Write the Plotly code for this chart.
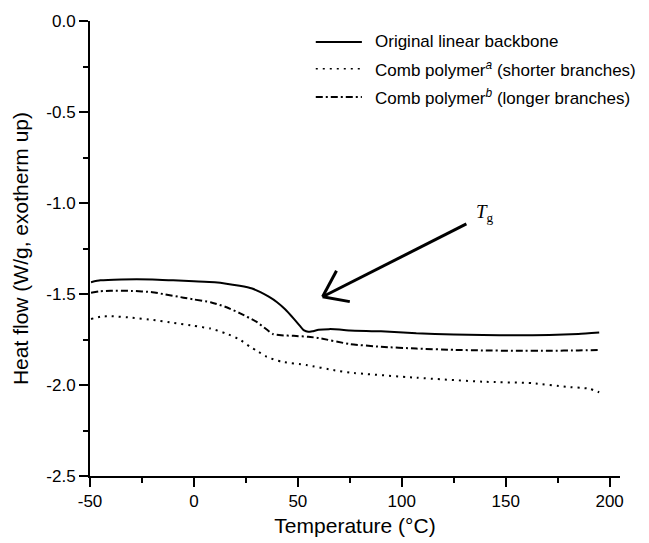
import plotly.graph_objects as go

# DSC traces: temperature (°C) and heat flow (W/g, exotherm up)
temp_backbone = [-49.5, -45, -35, -20, -10, 0, 10, 22, 28, 32, 36, 40, 44, 48, 51, 53, 55,
                 57, 60, 65, 70, 75, 90, 107, 125, 139, 155, 171, 185, 195]
flow_backbone = [-1.435, -1.425, -1.42, -1.42, -1.425, -1.43, -1.435, -1.455, -1.47, -1.49,
                 -1.515, -1.545, -1.585, -1.635, -1.675, -1.70, -1.708, -1.705, -1.697,
                 -1.693, -1.695, -1.70, -1.705, -1.716, -1.722, -1.725, -1.727, -1.725,
                 -1.72, -1.712]

temp_short = [-49.5, -45, -40, -30, -20, -10, 0, 8, 15, 22, 27, 30, 35, 42, 54, 68, 75, 107,
              139, 163, 179, 190, 195]
flow_short = [-1.637, -1.625, -1.622, -1.63, -1.642, -1.658, -1.675, -1.69, -1.715, -1.75,
              -1.79, -1.81, -1.845, -1.872, -1.89, -1.92, -1.932, -1.96, -1.982, -1.99,
              -2.01, -2.02, -2.04]

temp_long = [-49.5, -45, -40, -30, -20, -15, -5, 0, 8, 15, 22, 30, 35, 38, 42, 48, 55, 60,
             75, 90, 107, 125, 139, 155, 171, 185, 195]
flow_long = [-1.493, -1.485, -1.482, -1.483, -1.49, -1.50, -1.52, -1.53, -1.545, -1.57,
             -1.605, -1.652, -1.695, -1.72, -1.727, -1.73, -1.735, -1.742, -1.775, -1.79,
             -1.80, -1.807, -1.81, -1.812, -1.812, -1.81, -1.808]

series_names = [
    "Original linear backbone",
    "Comb polymer<sup><i>a</i></sup> (shorter branches)",
    "Comb polymer<sup><i>b</i></sup> (longer branches)",
]
series_dash = ["solid", "2px,5px", "7px,3px,2px,3px"]

x_ticks = [-50, 0, 50, 100, 150, 200]
y_ticks = [0.0, -0.5, -1.0, -1.5, -2.0, -2.5]

# Glass transition marker: arrow tip and tail (data units)
tg_tip = (61.9, -1.515)
tg_tail = (131.1, -1.115)

FONT = "Liberation Sans, Arial, sans-serif"

fig = go.Figure()
for xs, ys, dash in [(temp_backbone, flow_backbone, series_dash[0]),
                     (temp_short, flow_short, series_dash[1]),
                     (temp_long, flow_long, series_dash[2])]:
    fig.add_trace(go.Scatter(
        x=xs, y=ys, mode="lines", showlegend=False,
        line=dict(color="black", width=2, dash=dash, shape="spline", smoothing=0.5),
    ))

shapes = []
# arrow shaft and open head
shapes.append(dict(type="line", xref="x", yref="y", x0=tg_tail[0], y0=tg_tail[1],
                   x1=tg_tip[0], y1=tg_tip[1], line=dict(color="black", width=3)))
shapes.append(dict(type="line", xref="x", yref="y", x0=tg_tip[0], y0=tg_tip[1],
                   x1=tg_tip[0] + 6.7, y1=tg_tip[1] + 0.143, line=dict(color="black", width=3)))
shapes.append(dict(type="line", xref="x", yref="y", x0=tg_tip[0], y0=tg_tip[1],
                   x1=tg_tip[0] + 13.1, y1=tg_tip[1] - 0.027, line=dict(color="black", width=3)))

annotations = [dict(
    x=tg_tail[0] + 3.5, y=tg_tail[1] + 0.06, xref="x", yref="y",
    text="<i>T</i><sub>g</sub>", showarrow=False, xanchor="left", yanchor="middle",
    font=dict(family="Liberation Serif, Times New Roman, serif", size=19, color="black"),
)]

# legend drawn as line samples plus labels
legend_rows = [0.954, 0.895, 0.833]
for name, dash, yy in zip(series_names, series_dash, legend_rows):
    shapes.append(dict(type="line", xref="paper", yref="paper", x0=0.426, x1=0.513,
                       y0=yy, y1=yy, line=dict(color="black", width=2 if dash != "2px,5px" else 1.6,
                                               dash=dash)))
    annotations.append(dict(x=0.534, y=yy, xref="paper", yref="paper", text=name,
                            showarrow=False, xanchor="left", yanchor="middle",
                            font=dict(family=FONT, size=17, color="black")))

fig.update_layout(
    width=649, height=543,
    margin=dict(l=90, r=29, t=21, b=67),
    paper_bgcolor="white", plot_bgcolor="white",
    font=dict(family=FONT, color="black"),
    shapes=shapes, annotations=annotations,
    showlegend=False,
)
fig.update_xaxes(
    range=[-50, 205], tickvals=x_ticks, ticktext=[str(v) for v in x_ticks],
    showgrid=False, zeroline=False, showline=True, linecolor="black", linewidth=2,
    ticks="outside", ticklen=9, tickwidth=2, tickcolor="black",
    minor=dict(dtick=25, tick0=-50, ticks="outside", ticklen=5, tickwidth=2, tickcolor="black"),
    tickfont=dict(size=17), title=dict(text="Temperature (°C)", font=dict(size=21), standoff=8),
    automargin=False,
)
fig.update_yaxes(
    range=[-2.5, 0], tickvals=y_ticks, ticktext=[f"{v:.1f}" for v in y_ticks],
    showgrid=False, zeroline=False, showline=True, linecolor="black", linewidth=2,
    ticks="outside", ticklen=9, tickwidth=2, tickcolor="black",
    minor=dict(dtick=0.25, tick0=0, ticks="outside", ticklen=5, tickwidth=2, tickcolor="black"),
    tickfont=dict(size=17), title=dict(text="Heat flow (W/g, exotherm up)", font=dict(size=21), standoff=12),
    automargin=False,
)

fig.write_html("out.html")
